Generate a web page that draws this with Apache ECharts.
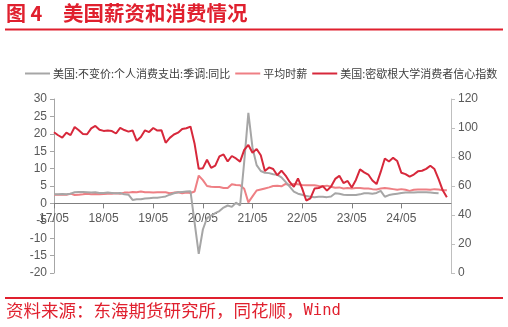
<!DOCTYPE html>
<html><head><meta charset="utf-8">
<script src="https://cdn.jsdelivr.net/npm/echarts@6/dist/echarts.min.js"></script>
<style>html,body{margin:0;padding:0;background:#fff}#c{width:508px;height:327px}</style>
</head><body><div id="c"></div>
<script>
// months 2017-05 .. 2025-05
const categories = [];
for (let y = 2017; y <= 2025; y++) {
  for (let m = 1; m <= 12; m++) {
    if ((y === 2017 && m < 5) || (y === 2025 && m > 5)) continue;
    categories.push(String(y).slice(2) + '/' + String(m).padStart(2, '0'));
  }
}
const legendNames = ['美国:不变价:个人消费支出:季调:同比', '平均时薪', '美国:密歇根大学消费者信心指数'];
const pceYoY = [
  2.6, 2.6, 2.7, 2.6, 2.8, 3.2, 3.3, 3.3,
  3.2, 3.1, 3.2, 3.0, 3.0, 3.1, 3.0, 2.9, 3.0, 2.6, 2.5, 1.0,
  1.2, 1.2, 1.4, 1.5, 1.6, 1.6, 1.8, 2.0, 2.5, 2.9, 3.2, 3.3,
  3.4, 3.5, -5.5, -14.5, -7.5, -4.2, -3.5, -2.8, -2.2, -1.2, -0.6, -1.0,
  0.2, -0.6, 12.0, 26.0, 16.0, 11.0, 9.3, 8.8, 8.7, 8.4, 8.2, 7.5,
  6.2, 4.8, 3.4, 2.8, 2.5, 2.1, 1.9, 1.8, 1.9, 1.9, 1.8, 2.0,
  2.9, 2.8, 2.5, 2.4, 2.4, 2.4, 2.6, 2.9, 2.9, 2.8, 3.0, 3.6,
  1.9, 2.4, 2.6, 2.8, 3.0, 3.1, 3.1, 3.1, 3.2, 3.2, 3.2, 3.1,
  3.0, 2.9, null, null, null
];
const wageYoY = [
  2.5, 2.5, 2.5, 2.5, 2.8, 2.4, 2.5, 2.6,
  2.8, 2.6, 2.7, 2.6, 2.7, 2.8, 2.8, 2.9, 2.8, 3.1, 3.1, 3.3,
  3.2, 3.4, 3.2, 3.2, 3.1, 3.2, 3.2, 3.2, 2.9, 3.1, 3.2, 2.9,
  3.1, 3.0, 3.4, 8.0, 6.7, 5.0, 4.8, 4.7, 4.7, 4.4, 4.4, 5.5,
  5.3, 5.2, 4.2, 0.3, 2.0, 3.7, 4.0, 4.3, 4.6, 5.0, 5.1, 4.9,
  5.6, 5.3, 5.6, 5.5, 5.3, 5.2, 5.2, 5.2, 5.0, 4.9, 5.1, 4.8,
  4.5, 4.6, 4.3, 4.4, 4.3, 4.4, 4.4, 4.3, 4.3, 4.1, 4.0, 4.3,
  4.4, 4.3, 4.1, 3.9, 4.1, 3.9, 3.6, 3.9, 4.0, 4.0, 4.0, 3.9,
  4.1, 4.0, 3.8, 3.8, null
];
const sentiment = [
  97.1, 95.0, 93.4, 96.8, 95.1, 100.7, 98.5, 95.9,
  95.7, 99.7, 101.4, 98.8, 98.0, 98.2, 97.9, 96.2, 100.1, 98.6, 97.5, 98.3,
  91.2, 93.8, 98.4, 97.2, 100.0, 98.2, 98.4, 89.8, 93.2, 95.5, 96.8, 99.3,
  99.8, 101.0, 89.1, 71.8, 72.3, 78.1, 72.5, 74.1, 80.4, 81.8, 76.9, 80.7,
  79.0, 76.8, 84.9, 88.3, 82.9, 85.5, 81.2, 70.3, 72.8, 71.7, 67.4, 70.6,
  67.2, 62.8, 59.4, 65.2, 58.4, 50.0, 51.5, 58.2, 58.6, 59.9, 56.8, 59.7,
  64.9, 67.0, 62.0, 63.5, 59.0, 64.2, 71.5, 69.4, 67.9, 63.8, 61.3, 69.7,
  79.0, 76.9, 79.4, 77.2, 69.1, 68.2, 66.4, 67.9, 70.1, 70.5, 71.8, 74.0,
  71.7, 64.7, 57.0, 52.2, null
];

const RED = '#e0202e';
const GRAY = '#a6a6a6', PINK = '#ee7f84', DRED = '#d7283b';
const showIdx = (i) => i % 12 === 0 && i < 96;
const GRID_TOP = 99, GRID_BOTTOM = 54, H = 327;
const LEFT_MIN = -20, LEFT_MAX = 30;
const plotH = H - GRID_TOP - GRID_BOTTOM;
// shift the category axis up so it sits on the left axis' zero line
const zeroShift = -plotH * (0 - LEFT_MIN) / (LEFT_MAX - LEFT_MIN);
const chart = echarts.init(document.getElementById('c'), null, {renderer: 'canvas'});
chart.setOption({
  animation: false,
  textStyle: {fontFamily: '"Noto Sans CJK SC", sans-serif'},
  graphic: [
    {type: 'text', left: 6, top: 3, style: {text: '图 4', fill: RED, font: 'bold 20px "Noto Sans CJK SC", sans-serif'}},
    {type: 'text', left: 63, top: 3, style: {text: '美国薪资和消费情况', fill: RED, font: 'bold 20.5px "Noto Sans CJK SC", sans-serif'}},
    {type: 'line', shape: {x1: 5, y1: 29.5, x2: 503, y2: 29.5}, style: {stroke: RED, lineWidth: 2}},
    {type: 'line', shape: {x1: 5, y1: 298, x2: 503, y2: 298}, style: {stroke: RED, lineWidth: 2}},
    {type: 'text', left: 6, top: 302, style: {
      text: '{a|资料来源：东海期货研究所，同花顺，}{b|Wind}',
      rich: {
        a: {fill: RED, fontSize: 17.5, fontFamily: '"Noto Sans CJK SC"'},
        b: {fill: RED, fontSize: 15.5, fontFamily: '"DejaVu Sans Mono"'}
      }
    }}
  ],
  legend: {
    left: 20, top: 63, itemWidth: 25, itemHeight: 2, itemGap: 5, icon: 'rect',
    textStyle: {fontSize: 11, color: '#404040', fontFamily: '"Noto Sans CJK SC"', padding: [0, 0, 0, -2]},
    data: legendNames
  },
  grid: {left: 54, right: 57, top: GRID_TOP, bottom: GRID_BOTTOM},
  xAxis: {
    type: 'category', data: categories, boundaryGap: false, offset: zeroShift,
    axisLine: {onZero: false, lineStyle: {color: '#7f7f7f', width: 1}},
    axisTick: {interval: (i) => showIdx(i), length: 5, lineStyle: {color: '#7f7f7f'}},
    axisLabel: {interval: (i) => showIdx(i), margin: 9, fontSize: 12, color: '#595959', fontFamily: '"Liberation Sans", Arial'},
    splitLine: {show: false}
  },
  yAxis: [
    {type: 'value', min: LEFT_MIN, max: LEFT_MAX, interval: 5,
     axisLine: {show: true, onZero: false, lineStyle: {color: '#a6a6a6'}},
     axisTick: {show: true, length: 4, lineStyle: {color: '#a6a6a6'}},
     axisLabel: {margin: 7, fontSize: 12, color: '#595959', fontFamily: '"Liberation Sans", Arial'},
     splitLine: {show: false}},
    {type: 'value', min: 0, max: 120, interval: 20, position: 'right',
     axisLine: {show: true, onZero: false, lineStyle: {color: '#bfbfbf'}},
     axisTick: {show: true, length: 4, lineStyle: {color: '#bfbfbf'}},
     axisLabel: {margin: 7, fontSize: 12, color: '#595959', fontFamily: '"Liberation Sans", Arial'},
     splitLine: {show: false}}
  ],
  series: [
    {name: legendNames[0], type: 'line', yAxisIndex: 0, data: pceYoY, symbol: 'none',
     lineStyle: {color: GRAY, width: 2}, itemStyle: {color: GRAY}, z: 3},
    {name: legendNames[1], type: 'line', yAxisIndex: 0, data: wageYoY, symbol: 'none',
     lineStyle: {color: PINK, width: 2}, itemStyle: {color: PINK}, z: 2},
    {name: legendNames[2], type: 'line', yAxisIndex: 1, data: sentiment, symbol: 'none',
     lineStyle: {color: DRED, width: 2}, itemStyle: {color: DRED}, z: 4}
  ]
});
</script></body></html>
